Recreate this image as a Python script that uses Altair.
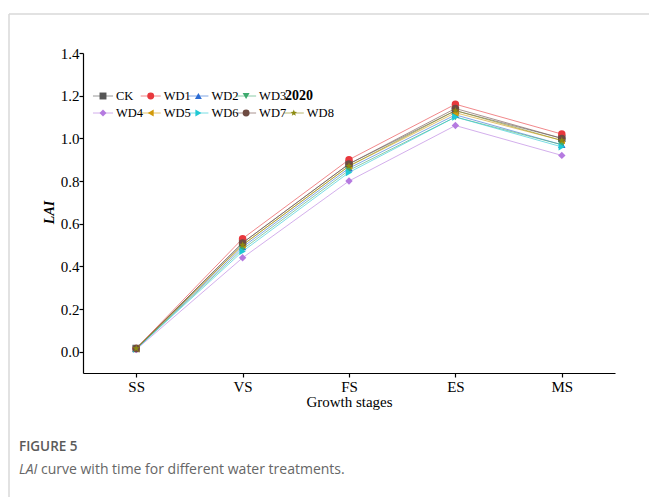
import altair as alt
import pandas as pd

# Growth stages on the x axis
stages = ["SS", "VS", "FS", "ES", "MS"]

# Leaf area index per water treatment, one value per growth stage
treatments = ["CK", "WD1", "WD2", "WD3", "WD4", "WD5", "WD6", "WD7", "WD8"]
lai_ck = [0.015, 0.51, 0.88, 1.13, 1.00]
lai_wd1 = [0.015, 0.53, 0.90, 1.16, 1.02]
lai_wd2 = [0.013, 0.49, 0.86, 1.11, 0.97]
lai_wd3 = [0.013, 0.48, 0.85, 1.10, 0.97]
lai_wd4 = [0.010, 0.44, 0.80, 1.06, 0.92]
lai_wd5 = [0.014, 0.50, 0.87, 1.12, 0.99]
lai_wd6 = [0.012, 0.47, 0.84, 1.10, 0.96]
lai_wd7 = [0.015, 0.51, 0.88, 1.14, 1.00]
lai_wd8 = [0.015, 0.50, 0.87, 1.13, 0.99]

y_ticks = [0.0, 0.2, 0.4, 0.6, 0.8, 1.0, 1.2, 1.4]

colors = ["#555555", "#E8383D", "#2B6CD4", "#3DAA6E", "#B57AE0",
          "#D29A0A", "#1FC8D3", "#6E4B42", "#8C8A10"]
shapes = ["square", "circle", "triangle-up", "triangle-down", "diamond",
          "triangle-left", "triangle-right", "circle",
          "M0,-1L0.24,-0.33L0.95,-0.31L0.38,0.12L0.59,0.81L0,0.4L-0.59,0.81L-0.38,0.12L-0.95,-0.31L-0.24,-0.33Z"]

series = [lai_ck, lai_wd1, lai_wd2, lai_wd3, lai_wd4,
          lai_wd5, lai_wd6, lai_wd7, lai_wd8]
rows = []
for t_i, (name, vals) in enumerate(zip(treatments, series)):
    for stage, v in zip(stages, vals):
        rows.append({"treatment": name, "stage": stage, "lai": v, "order": t_i})
df = pd.DataFrame(rows)

SERIF = "Liberation Serif"
SANS = "Open Sans"

color_scale = alt.Scale(domain=treatments, range=colors)
shape_scale = alt.Scale(domain=treatments, range=shapes)

x_enc = alt.X(
    "stage:N", sort=stages,
    scale=alt.Scale(type="point", padding=0.5),
    axis=alt.Axis(title="Growth stages", labelAngle=0, labelFont=SERIF,
                  labelFontSize=15, labelPadding=2, titleFont=SERIF,
                  titleFontSize=15, titleFontWeight="normal", titlePadding=0,
                  titleColor="black", labelColor="black"),
)
y_enc = alt.Y(
    "lai:Q", scale=alt.Scale(domain=[-0.1, 1.4], nice=False, zero=False),
    axis=alt.Axis(title="LAI", values=y_ticks, format=".1f", labelFont=SERIF,
                  labelFontSize=15, labelColor="black", labelPadding=0,
                  titleFont=SERIF,
                  titleFontSize=14, titleFontStyle="italic",
                  titleFontWeight="bold", titleColor="black",
                  titleX=-34, titleY=159, titleAlign="center",
                  titleBaseline="middle", titleAngle=-90),
)

lines = alt.Chart(df).mark_line(strokeWidth=1, opacity=0.6).encode(
    x=x_enc, y=y_enc,
    color=alt.Color("treatment:N", scale=color_scale, legend=None),
    detail="treatment:N",
    order="order:Q",
)
points = alt.Chart(df).mark_point(filled=True, size=55, opacity=1).encode(
    x=x_enc, y=y_enc,
    color=alt.Color("treatment:N", scale=color_scale, legend=None),
    shape=alt.Shape("treatment:N", scale=shape_scale, legend=None),
    order="order:Q",
)
plot = alt.layer(lines, points)

# Key laid out in two rows: first four treatments, then the remaining five
key_rows = []
for i, name in enumerate(treatments):
    r = 0 if i < 4 else 1
    c = i if i < 4 else i - 4
    key_rows.append({"treatment": name, "col": c, "row": r,
                     "c0": c - 0.21, "c1": c + 0.21})
key_df = pd.DataFrame(key_rows)
kx = alt.Scale(domain=[0, 4], range=[20, 20 + 4 * 47.7])
ky = alt.Scale(domain=[0, 1], range=[43, 60])

key_lines = alt.Chart(key_df).mark_rule(strokeWidth=1, opacity=0.6).encode(
    x=alt.X("c0:Q", scale=kx, axis=None), x2="c1:Q",
    y=alt.Y("row:Q", scale=ky, axis=None),
    color=alt.Color("treatment:N", scale=color_scale, legend=None),
)
key_points = alt.Chart(key_df).mark_point(filled=True, size=48, opacity=1).encode(
    x=alt.X("col:Q", scale=kx, axis=None),
    y=alt.Y("row:Q", scale=ky, axis=None),
    color=alt.Color("treatment:N", scale=color_scale, legend=None),
    shape=alt.Shape("treatment:N", scale=shape_scale, legend=None),
)
key_text = alt.Chart(key_df).mark_text(
    align="left", baseline="middle", dx=13, font=SERIF, fontSize=12.5, color="black"
).encode(
    x=alt.X("col:Q", scale=kx, axis=None),
    y=alt.Y("row:Q", scale=ky, axis=None),
    text="treatment:N",
)
year = alt.Chart(alt.Data(values=[{"t": "2020"}])).mark_text(
    align="left", baseline="middle", font=SERIF, fontSize=14,
    fontWeight="bold", color="black"
).encode(x=alt.value(202), y=alt.value(43), text="t:N")

# Card frame and caption
one = alt.Data(values=[{"a": 1}])
frame_top = alt.Chart(one).mark_rule(color="#d9d9d9", strokeWidth=1.5).encode(
    x=alt.value(-74), x2=alt.value(566), y=alt.value(-39))
frame_left = alt.Chart(one).mark_rule(color="#d9d9d9", strokeWidth=1.5).encode(
    x=alt.value(-74), y=alt.value(-39), y2=alt.value(444))
fig_label = alt.Chart(alt.Data(values=[{"t": "FIGURE 5"}])).mark_text(
    align="left", baseline="middle", font=SANS, fontSize=13.5,
    fontWeight=600, color="#5a5a5a"
).encode(x=alt.value(-64), y=alt.value(394), text="t:N")
cap_lai = alt.Chart(alt.Data(values=[{"t": "LAI"}])).mark_text(
    align="left", baseline="middle", font=SANS, fontSize=14,
    fontStyle="italic", color="#666666"
).encode(x=alt.value(-64), y=alt.value(417), text="t:N")
cap_rest = alt.Chart(alt.Data(values=[{"t": "curve with time for different water treatments."}])).mark_text(
    align="left", baseline="middle", font=SANS, fontSize=14, color="#666666"
).encode(x=alt.value(-42), y=alt.value(417), text="t:N")

chart = alt.layer(
    plot, key_lines, key_points, key_text, year,
    frame_top, frame_left, fig_label, cap_lai, cap_rest,
).resolve_scale(
    x="independent", y="independent"
).properties(
    width=532, height=320,
    autosize=alt.AutoSizeParams(type="none"),
    padding={"left": 83, "top": 53, "right": 34, "bottom": 124},
    background="white",
).configure_view(stroke=None).configure_axis(
    grid=False, domainColor="black", domainWidth=1.2, tickColor="black",
    tickSize=4, tickWidth=1.2,
)

chart.save("out.html", embed_options={"renderer": "svg", "actions": False})
